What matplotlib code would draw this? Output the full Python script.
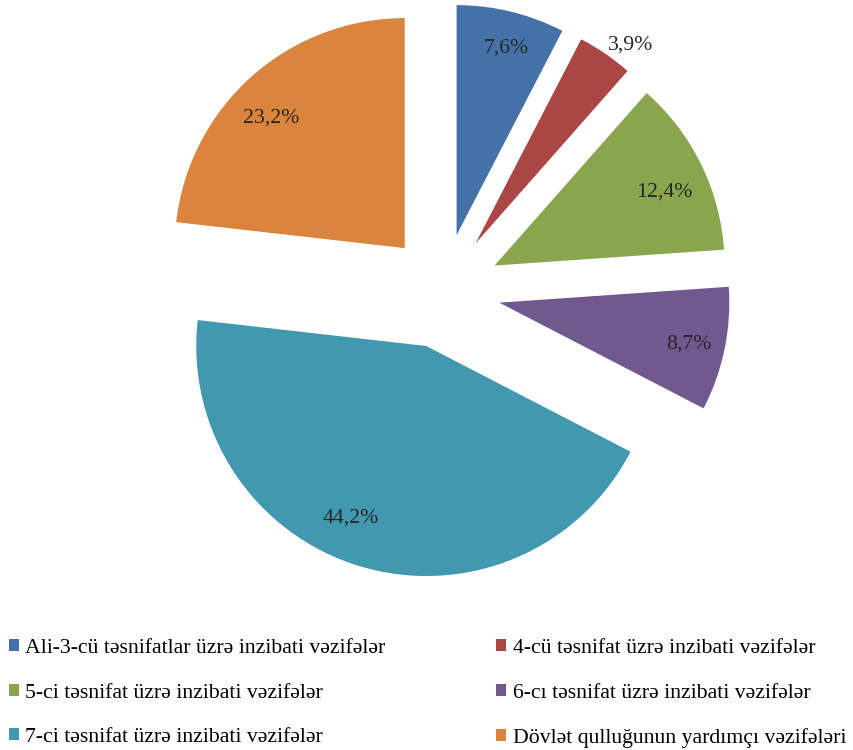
import numpy as np
import matplotlib.pyplot as plt
from matplotlib.patches import Patch

plt.rcParams['font.family'] = ['Liberation Serif', 'DejaVu Serif']

# Shares of positions by classification (%)
labels = [
    "Ali-3-cü təsnifatlar üzrə inzibati vəzifələr",
    "4-cü təsnifat üzrə inzibati vəzifələr",
    "5-ci təsnifat üzrə inzibati vəzifələr",
    "6-cı təsnifat üzrə inzibati vəzifələr",
    "7-ci təsnifat üzrə inzibati vəzifələr",
    "Dövlət qulluğunun yardımçı vəzifələri",
]
shares = [7.6, 3.9, 12.4, 8.7, 44.2, 23.2]
colors = ['#4472A8', '#AA4643', '#89A54E', '#71588F', '#4198AF', '#DB843D']

W, H = 854, 750
fig = plt.figure(figsize=(W / 100, H / 100), dpi=100)

# pie centre at (443, 291) px from top, radius 230 px
r_px, cx, cy = 230, 443, 291
x0, x1, y0, y1 = -1.5, 1.5, -1.5, 1.25
left = (cx + x0 * r_px) / W
bottom = (H - cy + y0 * r_px) / H
ax = fig.add_axes([left, bottom, (x1 - x0) * r_px / W, (y1 - y0) * r_px / H])

wedges, texts, autotexts = ax.pie(
    shares, colors=colors, startangle=90, counterclock=False,
    explode=[0.25] * len(shares), pctdistance=0.82,
    autopct=lambda p: f"{p:.1f}%".replace('.', ','),
    textprops=dict(fontsize=15.7, color='#262626'))

# small slice label sits outside the wedge
w = wedges[1]
mid = np.deg2rad((w.theta1 + w.theta2) / 2)
autotexts[1].set_position((w.center[0] + 1.09 * np.cos(mid),
                           w.center[1] + 1.09 * np.sin(mid)))

# nudge labels (pixels, x right / y down) to where Excel put them
nudges = [(5, -4), (14, 8), (1, 10), (5, 3), (-21, -8), (-8, 11)]
for t, (dx, dy) in zip(autotexts, nudges):
    px, py = t.get_position()
    t.set_position((px + dx / r_px, py - dy / r_px))

ax.set_xlim(x0, x1)
ax.set_ylim(y0, y1)
ax.set_aspect('equal', adjustable='datalim')

# legend is filled row by row in the original
order = [0, 2, 4, 1, 3, 5]
handles = [Patch(facecolor=colors[i], edgecolor='none') for i in order]
fig.legend(handles, [labels[i] for i in order], ncol=2, loc='upper left',
           bbox_to_anchor=(9 / W, 1 - 639 / H), frameon=False,
           fontsize=15.7, borderpad=0, borderaxespad=0,
           handlelength=0.45, handleheight=0.45, handletextpad=0.3,
           columnspacing=5.08, labelspacing=1.17)

fig.savefig('out.png', dpi=100, facecolor='white')
